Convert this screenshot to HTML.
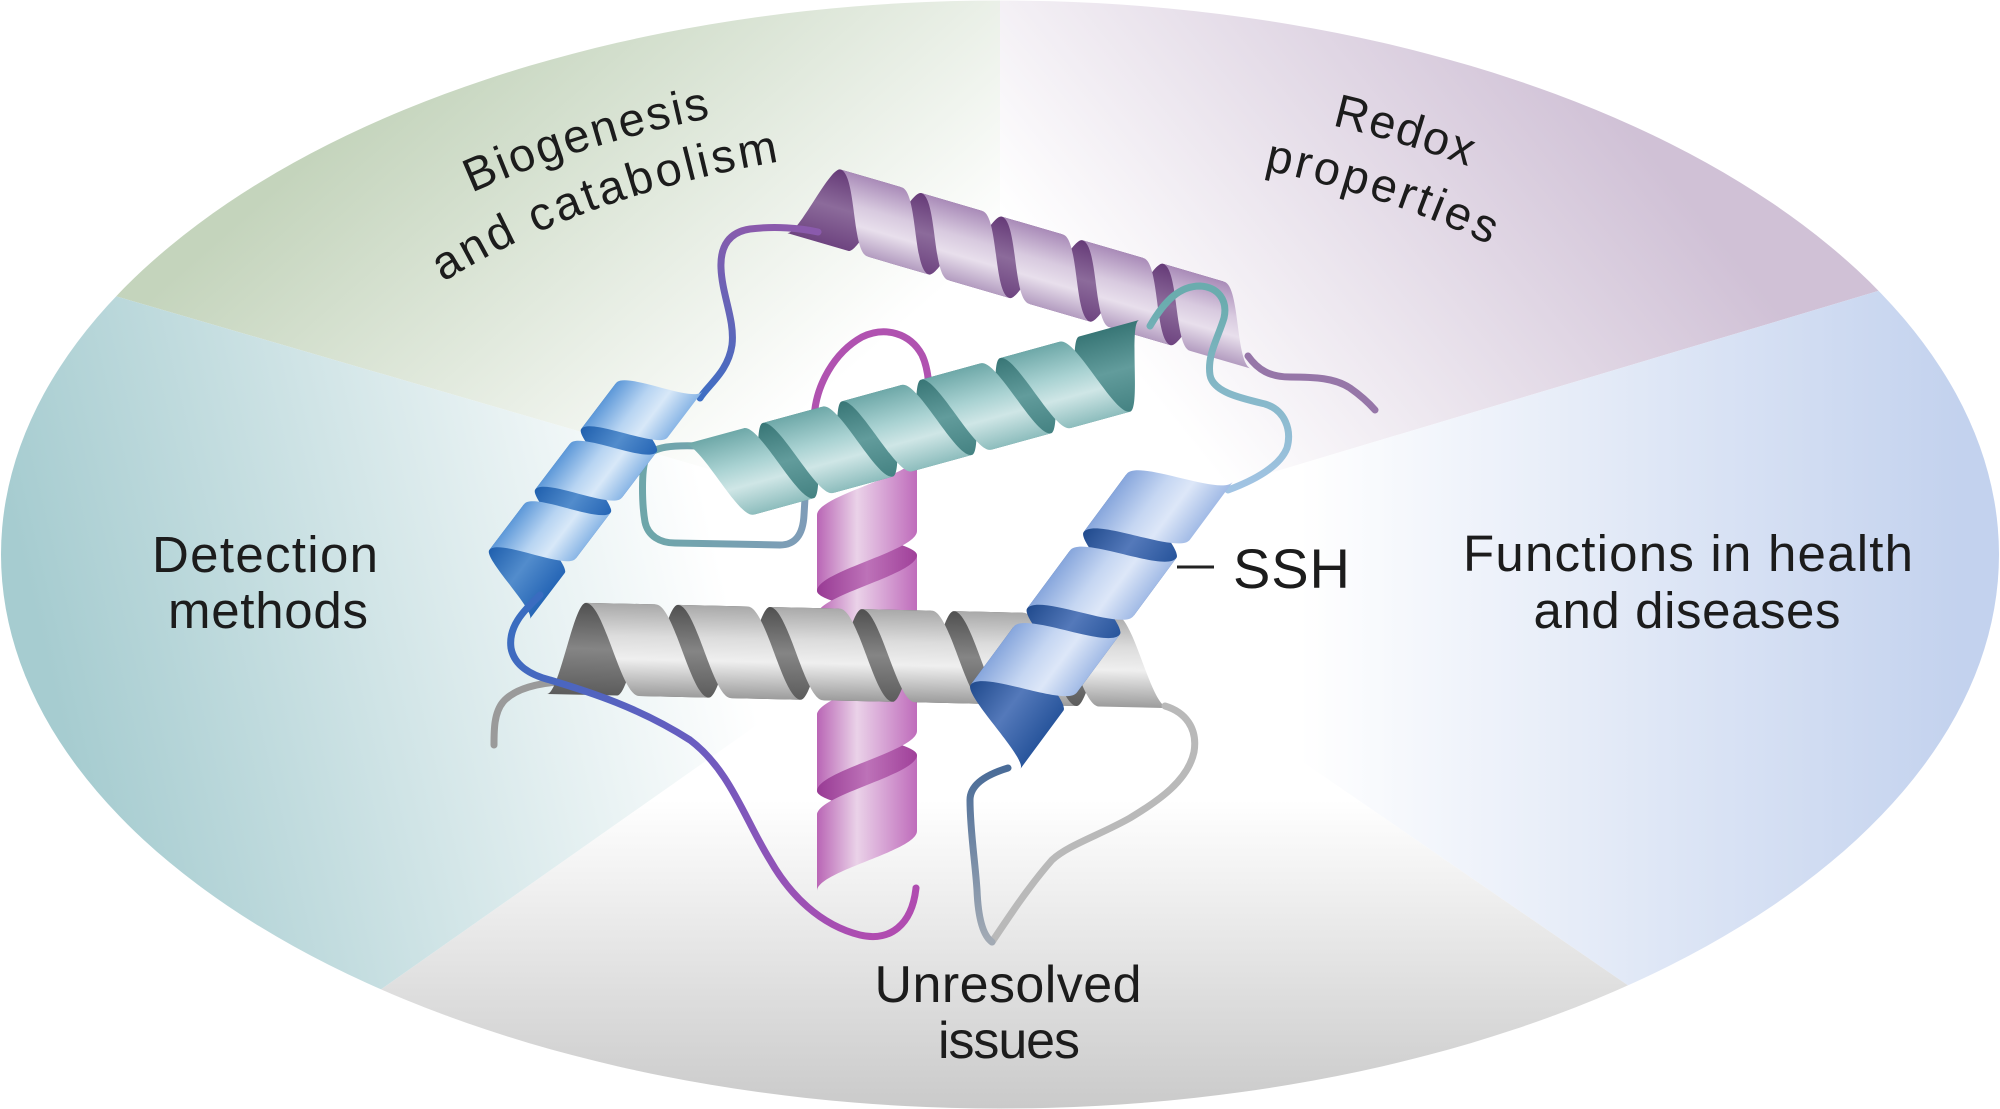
<!DOCTYPE html>
<html>
<head>
<meta charset="utf-8">
<style>
html,body{margin:0;padding:0;background:#ffffff;width:2000px;height:1109px;overflow:hidden;}
svg{display:block;}
text{font-family:"Liberation Sans",Arial,sans-serif;fill:#1c1c1c;}
</style>
</head>
<body>
<svg width="2000" height="1109" viewBox="0 0 2000 1109" xmlns="http://www.w3.org/2000/svg" style="overflow:hidden">
<defs>
  <clipPath id="ell"><ellipse cx="1000" cy="554.5" rx="999" ry="554"/></clipPath>

  <linearGradient id="sgGreen" gradientUnits="userSpaceOnUse" x1="760" y1="450" x2="420" y2="60">
    <stop offset="0" stop-color="#ffffff"/><stop offset="1" stop-color="#c4d4bc"/>
  </linearGradient>
  <linearGradient id="sgPurple" gradientUnits="userSpaceOnUse" x1="1180" y1="430" x2="1600" y2="90">
    <stop offset="0" stop-color="#ffffff"/><stop offset="1" stop-color="#d0c1d6"/>
  </linearGradient>
  <linearGradient id="sgBlue" gradientUnits="userSpaceOnUse" x1="1300" y1="0" x2="1960" y2="0">
    <stop offset="0" stop-color="#ffffff"/><stop offset="1" stop-color="#c3d2ee"/>
  </linearGradient>
  <linearGradient id="sgGray" gradientUnits="userSpaceOnUse" x1="0" y1="800" x2="0" y2="1109">
    <stop offset="0" stop-color="#ffffff"/><stop offset="1" stop-color="#cacaca"/>
  </linearGradient>
  <linearGradient id="sgTeal" gradientUnits="userSpaceOnUse" x1="700" y1="480" x2="40" y2="640">
    <stop offset="0" stop-color="#ffffff"/><stop offset="1" stop-color="#a6ccd0"/>
  </linearGradient>

  <path id="F" d="M-38,-50 C-18,-50 2,50 22,50 L98,50 C78,50 58,-50 38,-50Z"/>
  <path id="B" d="M22,50 C35.33,50 48.67,-50 62,-50 L138,-50 C124.67,-50 111.33,50 98,50Z"/>

  <linearGradient id="grF" x1="0" y1="0" x2="0" y2="1">
    <stop offset="0" stop-color="#a9a9a9"/><stop offset=".35" stop-color="#dcdcdc"/><stop offset=".6" stop-color="#efefef"/><stop offset="1" stop-color="#9c9c9c"/>
  </linearGradient>
  <linearGradient id="grB" x1="0" y1="0" x2="0" y2="1">
    <stop offset="0" stop-color="#505050"/><stop offset=".5" stop-color="#858585"/><stop offset="1" stop-color="#5c5c5c"/>
  </linearGradient>

  <linearGradient id="pkF" x1="0" y1="0" x2="0" y2="1">
    <stop offset="0" stop-color="#bf6cbb"/><stop offset=".4" stop-color="#dcb0da"/><stop offset=".6" stop-color="#ead2e8"/><stop offset="1" stop-color="#b965b5"/>
  </linearGradient>
  <linearGradient id="pkB" x1="0" y1="0" x2="0" y2="1">
    <stop offset="0" stop-color="#a0409a"/><stop offset=".5" stop-color="#bd72b8"/><stop offset="1" stop-color="#983a94"/>
  </linearGradient>

  <linearGradient id="tlF" x1="0" y1="0" x2="0" y2="1">
    <stop offset="0" stop-color="#6ea8a8"/><stop offset=".4" stop-color="#a9d2d2"/><stop offset=".65" stop-color="#cfe6e6"/><stop offset="1" stop-color="#8dbdbd"/>
  </linearGradient>
  <linearGradient id="tlB" x1="0" y1="0" x2="0" y2="1">
    <stop offset="0" stop-color="#387676"/><stop offset=".5" stop-color="#629c9c"/><stop offset="1" stop-color="#448282"/>
  </linearGradient>

  <linearGradient id="puF" x1="0" y1="0" x2="0" y2="1">
    <stop offset="0" stop-color="#a98bb8"/><stop offset=".4" stop-color="#d8cadf"/><stop offset=".65" stop-color="#e8dfec"/><stop offset="1" stop-color="#b39cc0"/>
  </linearGradient>
  <linearGradient id="puB" x1="0" y1="0" x2="0" y2="1">
    <stop offset="0" stop-color="#653a77"/><stop offset=".5" stop-color="#8c6b9b"/><stop offset="1" stop-color="#6e4480"/>
  </linearGradient>

  <linearGradient id="blF" x1="0" y1="0" x2="0" y2="1">
    <stop offset="0" stop-color="#5d98d8"/><stop offset=".4" stop-color="#b7d4f2"/><stop offset=".65" stop-color="#d8e8f8"/><stop offset="1" stop-color="#8ab6e6"/>
  </linearGradient>
  <linearGradient id="blB" x1="0" y1="0" x2="0" y2="1">
    <stop offset="0" stop-color="#2060ae"/><stop offset=".5" stop-color="#528ccc"/><stop offset="1" stop-color="#2666b6"/>
  </linearGradient>

  <linearGradient id="brF" x1="0" y1="0" x2="0" y2="1">
    <stop offset="0" stop-color="#87a6dc"/><stop offset=".4" stop-color="#c5d6f2"/><stop offset=".65" stop-color="#dde7f8"/><stop offset="1" stop-color="#a2bbe6"/>
  </linearGradient>
  <linearGradient id="brB" x1="0" y1="0" x2="0" y2="1">
    <stop offset="0" stop-color="#214b8e"/><stop offset=".5" stop-color="#5479ba"/><stop offset="1" stop-color="#28559c"/>
  </linearGradient>

  <linearGradient id="lgPB" gradientUnits="userSpaceOnUse" x1="700" y1="400" x2="760" y2="230">
    <stop offset="0" stop-color="#3d6fc4"/><stop offset="1" stop-color="#8a5aac"/>
  </linearGradient>
  <linearGradient id="lgBM" gradientUnits="userSpaceOnUse" x1="540" y1="600" x2="880" y2="930">
    <stop offset="0" stop-color="#3a6cc0"/><stop offset=".45" stop-color="#6a5cc0"/><stop offset="1" stop-color="#b04cb0"/>
  </linearGradient>
  <linearGradient id="lgTR" gradientUnits="userSpaceOnUse" x1="0" y1="300" x2="0" y2="490">
    <stop offset="0" stop-color="#6aacae"/><stop offset="1" stop-color="#a2c4e4"/>
  </linearGradient>
  <linearGradient id="lgTL" gradientUnits="userSpaceOnUse" x1="650" y1="0" x2="810" y2="0">
    <stop offset="0" stop-color="#6ea6aa"/><stop offset="1" stop-color="#7f9cb8"/>
  </linearGradient>
  <linearGradient id="lgBG" gradientUnits="userSpaceOnUse" x1="0" y1="940" x2="0" y2="770">
    <stop offset="0" stop-color="#a2aab4"/><stop offset="1" stop-color="#4a6c98"/>
  </linearGradient>

  <path id="pA" d="M364.9,250.3 A839,464.8 0 0 1 1073.1,91.0" fill="none"/>
  <path id="pB" d="M415.3,300.9 A742,411.1 0 0 1 1128.8,149.1" fill="none"/>
  <path id="pC" d="M1124.5,92.6 A842,466.5 0 0 1 1729.2,320.8" fill="none"/>
  <path id="pD" d="M1139.1,150.2 A742,411.1 0 0 1 1672.5,380.3" fill="none"/>
</defs>

<g clip-path="url(#ell)">
  <polygon points="1000,554 0,262.5 0,0 1000,0" fill="url(#sgGreen)"/>
  <polygon points="1000,554 1000,0 2000,0 2000,254.5" fill="url(#sgPurple)"/>
  <polygon points="1000,554 2000,254.5 2000,1109 1808,1109" fill="url(#sgBlue)"/>
  <polygon points="1000,554 1808,1109 211,1109" fill="url(#sgGray)"/>
  <polygon points="1000,554 211,1109 0,1109 0,262.5" fill="url(#sgTeal)"/>
</g>

<g fill="none" stroke-linecap="round" stroke-linejoin="round">

  <g transform="translate(860.5,214.9) rotate(16.3) scale(0.84,0.76)" stroke="none">
    <g fill="url(#puB)"><use href="#B" x="-100"/><use href="#B" x="0"/><use href="#B" x="100"/><use href="#B" x="200"/><use href="#B" x="300"/></g>
    <g fill="url(#puF)"><use href="#F" x="0"/><use href="#F" x="100"/><use href="#F" x="200"/><use href="#F" x="300"/><use href="#F" x="400"/></g>
  </g>
  <path d="M1248,356 C1258,370 1270,377 1290,377 C1315,377 1335,378 1350,388 C1360,395 1368,402 1375,410" stroke="#9676a8" stroke-width="7"/>

  <path d="M700,398 C708,385 728,372 732,345 C735,320 722,295 721,268 C720,245 730,232 750,229 C775,226 800,228 818,232" stroke="url(#lgPB)" stroke-width="7"/>

  <path d="M815,470 L814,420 C815,385 835,352 862,337 C885,326 910,333 922,355 C930,372 930,395 929,430" stroke="#b052b0" stroke-width="7"/>

  <g transform="translate(867,493) rotate(90)" stroke="none">
    <g fill="url(#pkB)"><use href="#B" x="0"/><use href="#B" x="100"/><use href="#B" x="200"/></g>
    <g fill="url(#pkF)"><use href="#F" x="0"/><use href="#F" x="100"/><use href="#F" x="200"/><use href="#F" x="300"/></g>
  </g>

  <path d="M700,446 C675,445 652,446 646,458 C641,470 642,505 645,522 C648,536 660,543 675,543 L780,545 C795,545 803,535 804,515 L806,482" stroke="url(#lgTL)" stroke-width="7"/>
  <path d="M1150,326 C1165,300 1180,286 1200,286 C1218,287 1228,300 1224,318 C1218,338 1207,355 1210,375 C1213,392 1240,398 1265,404 C1285,410 1292,430 1287,448 C1280,466 1255,480 1228,490" stroke="url(#lgTR)" stroke-width="7"/>

  <g transform="translate(725,477.9) rotate(-15.3) scale(0.82,0.86)" stroke="none">
    <g fill="url(#tlB)"><use href="#B" x="0"/><use href="#B" x="100"/><use href="#B" x="200"/><use href="#B" x="300"/><use href="#B" x="400"/></g>
    <g fill="url(#tlF)"><use href="#F" x="0"/><use href="#F" x="100"/><use href="#F" x="200"/><use href="#F" x="300"/><use href="#F" x="400"/></g>
  </g>

  <g transform="translate(536.2,549.4) rotate(-52.8) scale(0.76,0.74)" stroke="none">
    <g fill="url(#blB)"><use href="#B" x="-100"/><use href="#B" x="0"/><use href="#B" x="100"/></g>
    <g fill="url(#blF)"><use href="#F" x="0"/><use href="#F" x="100"/><use href="#F" x="200"/></g>
  </g>

  <path d="M560,682 C540,683 515,688 503,702 C494,713 494,730 494,745" stroke="#9a9a9a" stroke-width="7"/>

  <g transform="translate(619.8,649.6) rotate(1.3) scale(0.92)" stroke="none">
    <g fill="url(#grB)"><use href="#B" x="-100"/><use href="#B" x="0"/><use href="#B" x="100"/><use href="#B" x="200"/><use href="#B" x="300"/><use href="#B" x="400"/></g>
    <g fill="url(#grF)"><use href="#F" x="0"/><use href="#F" x="100"/><use href="#F" x="200"/><use href="#F" x="300"/><use href="#F" x="400"/><use href="#F" x="500"/></g>
  </g>

  <path d="M540,595 C525,610 508,625 511,648 C514,665 530,675 550,680 C590,692 640,708 690,740 C730,770 745,820 770,860 C790,895 820,925 860,935 C890,942 912,925 916,888" stroke="url(#lgBM)" stroke-width="7"/>

  <path d="M1165,706 C1185,712 1198,728 1194,752 C1188,780 1160,800 1130,818 C1100,835 1068,845 1052,860 C1030,885 1010,915 992,942" stroke="#b9b9b9" stroke-width="7"/>
  <path d="M992,942 C982,935 978,915 977,890 C975,860 970,830 970,800 C970,785 985,775 1008,768" stroke="url(#lgBG)" stroke-width="7"/>

  <g transform="translate(1028.3,682.5) rotate(-53.5) scale(0.95,0.9)" stroke="none">
    <g fill="url(#brB)"><use href="#B" x="-100"/><use href="#B" x="0"/><use href="#B" x="100"/></g>
    <g fill="url(#brF)"><use href="#F" x="0"/><use href="#F" x="100"/><use href="#F" x="200"/></g>
  </g>

  <line x1="1177" y1="567" x2="1214" y2="567" stroke="#222222" stroke-width="3" stroke-linecap="butt"/>
</g>

<text font-size="47" letter-spacing="2.3"><textPath href="#pA" startOffset="248" text-anchor="middle">Biogenesis</textPath></text>
<text font-size="47" letter-spacing="3.3"><textPath href="#pB" startOffset="215" text-anchor="middle">and catabolism</textPath></text>
<text font-size="47" letter-spacing="1.6"><textPath href="#pC" startOffset="282" text-anchor="middle">Redox</textPath></text>
<text font-size="47" letter-spacing="3.2"><textPath href="#pD" startOffset="247" text-anchor="middle">properties</textPath></text>

<text x="265" y="572" font-size="51" text-anchor="middle" textLength="226" lengthAdjust="spacing">Detection</text>
<text x="268" y="628" font-size="51" text-anchor="middle" textLength="200" lengthAdjust="spacing">methods</text>

<text x="1688" y="571" font-size="51" text-anchor="middle" textLength="450" lengthAdjust="spacing">Functions in health</text>
<text x="1687" y="628" font-size="51" text-anchor="middle" textLength="307" lengthAdjust="spacing">and diseases</text>

<text x="1008" y="1002" font-size="52" text-anchor="middle" textLength="267" lengthAdjust="spacing">Unresolved</text>
<text x="1009" y="1058" font-size="52" text-anchor="middle" textLength="142" lengthAdjust="spacing">issues</text>

<text x="1233" y="588" font-size="56" textLength="117" lengthAdjust="spacing">SSH</text>
</svg>
</body>
</html>
